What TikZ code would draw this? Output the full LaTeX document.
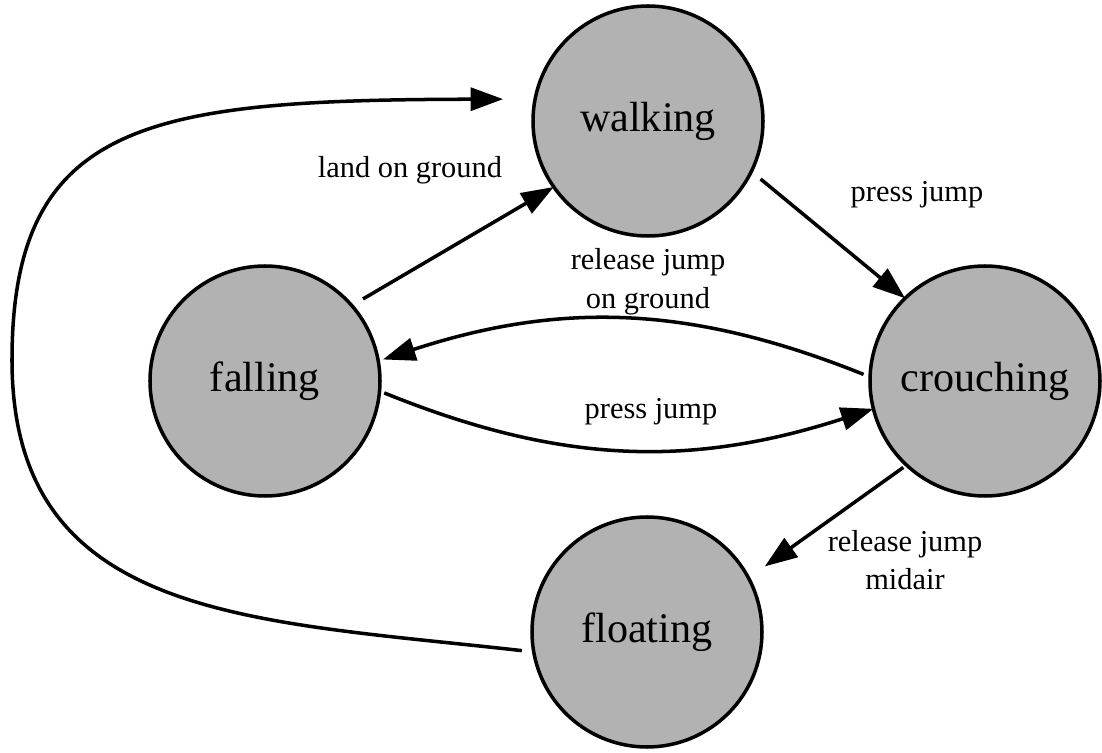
\documentclass[tikz,border=0pt]{standalone}
\usepackage{fontspec}
\setmainfont{Liberation Serif}
\usetikzlibrary{positioning,arrows.meta}
\tikzset{
  st/.style ={circle, draw=black, fill=black!30, line width=2pt, minimum size=46mm,
              inner sep=0pt, outer sep=0pt, font=\fontsize{24}{28}\selectfont},
  arr/.style={-{Triangle[length=6.5mm,width=4.6mm]}, line width=2pt},
  el/.style ={font=\fontsize{17.3}{22}\selectfont, align=center, inner sep=1pt},
}

\begin{document}
\begin{tikzpicture}
  \useasboundingbox (0,0) rectangle (22.04,15.06);
  \node[st] (walking)   at (12.96,12.64) {walking};
  \node[st] (falling)   at (5.30,7.44)   {falling};
  \node[st] (crouching) at (19.70,7.44)  {crouching};
  \node[st] (floating)  at (12.94,2.42)  {floating};
  \coordinate (loopw) at (0.24,7.86);
  \draw[arr, shorten <=0.26cm] (falling.41) -- (walking.215);
  \draw[arr, shorten <=0.24cm] (walking.-26) -- (crouching.134);
  \draw[arr, shorten <=0.14cm, shorten >=0.1cm] (crouching.178) to[bend right=20] (falling.10);
  \draw[arr, shorten <=0.1cm] (falling.-5) to[bend right=20] (crouching.194);
  \draw[arr, shorten <=0.08cm, shorten >=0.4cm] (crouching.227) -- (floating.28);
  \draw[arr, shorten <=0.24cm, shorten >=0.64cm] (floating.190)
    .. controls (5.00,2.66) and (0.24,2.66) .. (loopw)
    .. controls (0.24,12.66) and (3.00,13.06) .. (walking.169);
  \node[el] (lland)  at (8.20,11.66)  {land on ground};
  \node[el] (lpress) at (18.34,11.16) {press jump};
  \node[el] (lrelg)  at (12.96,9.42)  {release jump\\on ground};
  \node[el] (lpjump) at (13.02,6.82)  {press jump};
  \node[el] (lrelm)  at (18.10,3.86)  {release jump\\midair};
\end{tikzpicture}
\end{document}
